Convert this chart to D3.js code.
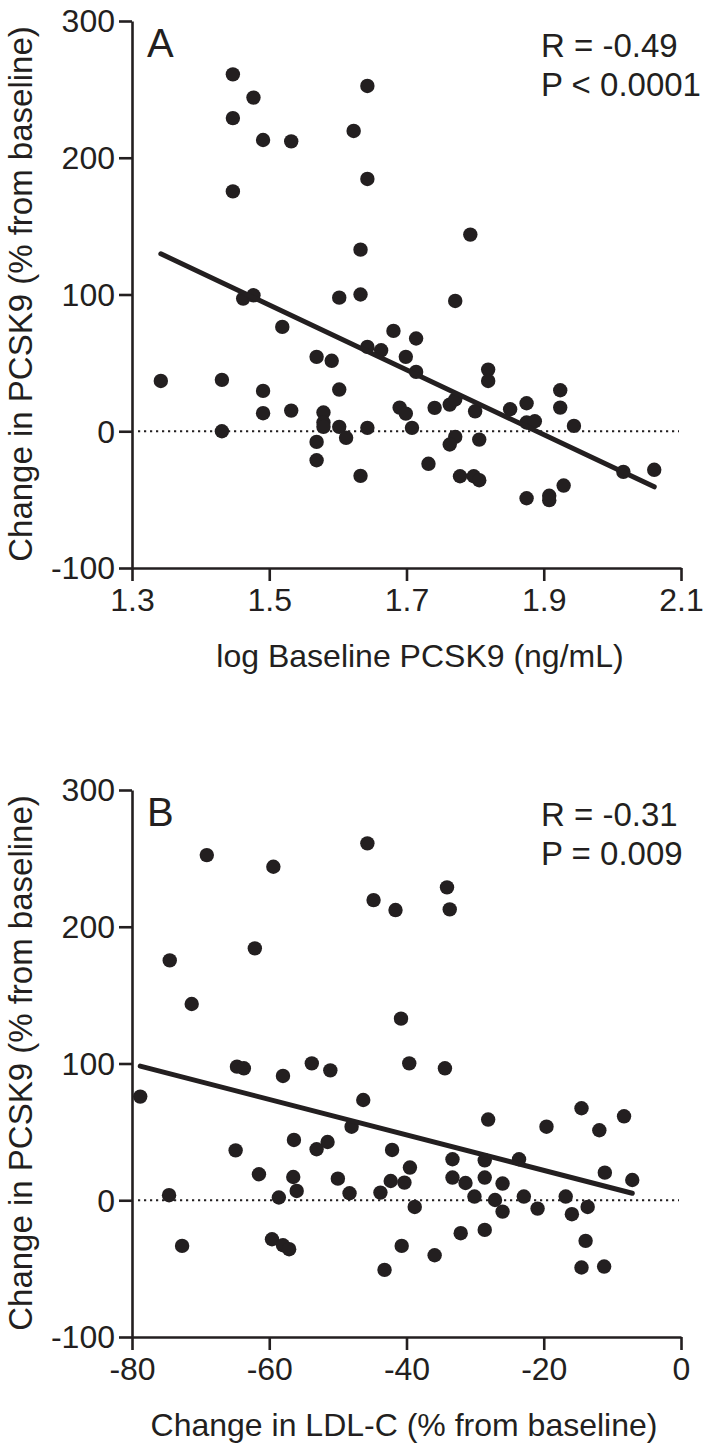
<!DOCTYPE html>
<html><head><meta charset="utf-8">
<script src="https://cdn.jsdelivr.net/npm/d3@7"></script>
<style>body{margin:0;background:#fff}svg{display:block}text{font-family:"Liberation Sans",Arial,sans-serif;fill:#231f20}</style>
</head><body>
<script>
const aLogBaseline = [1.447,1.477,1.447,1.491,1.532,1.643,1.623,1.643,1.447,1.633,1.602,1.633,1.793,1.771,1.462,1.477,1.519,1.681,1.714,1.643,1.663,1.699,1.714,1.569,1.591,1.342,1.431,1.491,1.602,1.491,1.532,1.579,1.579,1.579,1.602,1.643,1.431,1.612,1.569,1.569,1.633,1.690,1.699,1.708,1.819,1.819,1.924,1.924,1.741,1.763,1.771,1.800,1.851,1.875,1.875,1.887,1.944,1.771,1.763,1.806,1.732,1.778,1.798,1.806,1.875,1.908,1.908,1.929,2.016,2.061];
const aChangePCSK9 = [261,244,229,213,212,252.5,219.6,184.5,175.4,132.8,97.7,100,143.8,95.3,97,99.4,76.3,73.4,67.8,61.7,59.2,54.4,43.4,54.4,51.5,36.8,37.6,29.5,30.5,13.2,15.1,13.7,6.4,3.2,3.2,2.5,0,-4.8,-7.8,-21.2,-32.6,17.3,12.9,2.5,45.1,36.8,30,17.3,17.1,19.5,23.2,14.6,16.1,20.5,6.4,7.3,3.9,-4.1,-9.7,-6.1,-23.8,-32.9,-32.9,-35.8,-49,-47.2,-50.4,-39.7,-29.7,-28.2];
const bChangeLDL = [-69.1,-59.4,-45.7,-44.8,-41.6,-74.5,-62.1,-71.3,-40.8,-34.1,-33.7,-78.8,-64.7,-63.7,-53.8,-51.1,-58.0,-39.6,-46.3,-48.0,-56.4,-51.5,-53.1,-64.9,-42.1,-39.5,-61.5,-56.5,-50.0,-42.3,-40.3,-56.0,-48.3,-43.8,-74.6,-58.6,-38.8,-59.6,-58.0,-57.1,-72.7,-40.7,-43.2,-34.4,-28.1,-19.6,-14.5,-11.9,-8.3,-33.3,-28.6,-23.6,-33.3,-31.4,-28.6,-26.0,-11.1,-7.1,-30.1,-27.1,-22.9,-16.8,-26.0,-20.9,-15.9,-13.6,-32.1,-28.6,-35.9,-13.9,-14.5,-11.2];
const bChangePCSK9 = [252.4,243.9,261,219.5,212.2,175.4,184.2,143.5,132.8,228.8,212.7,75.8,97.7,96.5,100.1,95,90.9,100.1,73.3,53.8,44.1,42.6,37.3,36.5,36.8,23.9,19,17,15.8,14.1,12.9,6.8,5.1,5.6,3.7,2,-4.9,-28.5,-32.9,-35.8,-33.4,-33.4,-50.9,96.5,59,53.8,67.3,51.2,61.4,30,29.2,30,16.6,12.6,16.6,12.2,20.2,14.8,2.7,0.2,2.7,2.7,-8.3,-6.1,-10.2,-4.9,-24.1,-21.7,-40.2,-29.7,-49.2,-48.5];
const yTicks = [-100,0,100,200,300];
const aXTicks = [1.3,1.5,1.7,1.9,2.1];
const bXTicks = [-80,-60,-40,-20,0];
const aFit = [-237, 447.8];   // slope, intercept
const bFit = [-1.297, -4.1];
const aStats = ["R = -0.49","P < 0.0001"];
const bStats = ["R = -0.31","P = 0.009"];
const yTitle = "Change in PCSK9 (% from baseline)";
const aXTitle = "log Baseline PCSK9 (ng/mL)";
const bXTitle = "Change in LDL-C (% from baseline)";

const ink = "#231f20";
const svg = d3.select("body").append("svg").attr("width",708).attr("height",1450);

function panel(o){
  const x = d3.scaleLinear().domain(o.xDomain).range([132,681]);
  const y = d3.scaleLinear().domain([-100,300]).range([o.top+547,o.top]);
  const g = svg.append("g");
  const xa = g.append("g").attr("transform",`translate(0,${o.top+547})`)
    .call(d3.axisBottom(x).tickValues(o.xTicks).tickSize(13).tickSizeOuter(0).tickFormat(o.fmt));
  const ya = g.append("g").attr("transform","translate(132,0)")
    .call(d3.axisLeft(y).tickValues(yTicks).tickSize(13).tickSizeOuter(0).tickFormat(d=>String(d)));
  [xa,ya].forEach(a=>{
    a.selectAll("path,line").attr("stroke",ink).attr("stroke-width",2.6);
    a.selectAll("text").attr("font-size",32).attr("fill",ink).attr("font-family","Liberation Sans, Arial, sans-serif");
  });
  xa.selectAll("text").attr("y",20).attr("dy","0.71em");
  ya.selectAll("text").attr("x",-17).attr("dy","0.34em");
  g.append("line").attr("x1",138).attr("x2",679).attr("y1",y(0)).attr("y2",y(0))
    .attr("stroke",ink).attr("stroke-width",2.2).attr("stroke-dasharray","2.2,3.8");
  g.append("g").selectAll("circle").data(o.xs.map((v,i)=>[v,o.ys[i]])).join("circle")
    .attr("cx",d=>x(d[0])).attr("cy",d=>y(d[1])).attr("r",7.2).attr("fill",ink);
  const [x0,x1] = d3.extent(o.xs);
  g.append("line").attr("x1",x(x0)).attr("x2",x(x1))
    .attr("y1",y(o.fit[0]*x0+o.fit[1])).attr("y2",y(o.fit[0]*x1+o.fit[1]))
    .attr("stroke",ink).attr("stroke-width",5).attr("stroke-linecap","round");
  g.append("text").attr("x",147).attr("y",o.top+36).attr("font-size",40).text(o.letter);
  g.append("text").attr("x",541).attr("y",o.top+36).attr("font-size",33).text(o.stats[0]);
  g.append("text").attr("x",541).attr("y",o.top+75).attr("font-size",33).text(o.stats[1]);
  g.append("text").attr("x",o.titleX).attr("y",o.top+646).attr("text-anchor","middle").attr("font-size",32).text(o.xTitle);
  g.append("text").attr("transform",`translate(32,${o.top+273}) rotate(-90)`).attr("text-anchor","middle").attr("font-size",33).text(yTitle);
}

panel({top:21,xDomain:[1.3,2.1],xTicks:aXTicks,fmt:d=>d.toFixed(1),xs:aLogBaseline,ys:aChangePCSK9,fit:aFit,letter:"A",stats:aStats,xTitle:aXTitle,titleX:420});
panel({top:790,xDomain:[-80,0],xTicks:bXTicks,fmt:d=>String(d),xs:bChangeLDL,ys:bChangePCSK9,fit:bFit,letter:"B",stats:bStats,xTitle:bXTitle,titleX:404});
</script>
</body></html>
